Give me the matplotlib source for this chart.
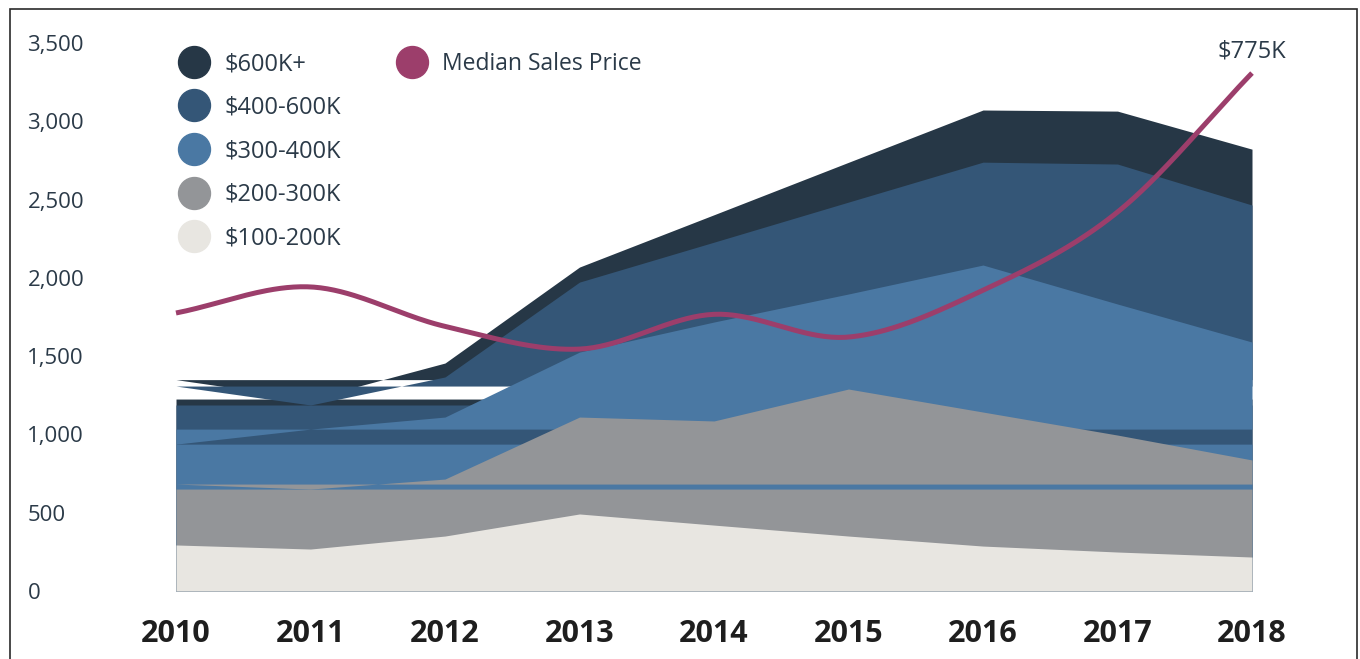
import numpy as np
import matplotlib
matplotlib.use("Agg")
import matplotlib.pyplot as plt
from matplotlib.lines import Line2D
from matplotlib.patches import Rectangle

# Sales count per price band (stacked)
years = [2010, 2011, 2012, 2013, 2014, 2015, 2016, 2017, 2018]
band_labels = ["$100-200K", "$200-300K", "$300-400K", "$400-600K", "$600K+"]
sales_100_200 = [294, 268, 351, 492, 421, 351, 287, 249, 217]
sales_200_300 = [389, 383, 364, 619, 665, 939, 856, 747, 620]
sales_300_400 = [255, 383, 396, 415, 632, 607, 939, 837, 753]
sales_400_600 = [371, 154, 256, 447, 510, 587, 657, 894, 875]
sales_600_up = [41, 38, 89, 96, 175, 254, 333, 338, 357]

# Median sales price ($K)
median_price = [416, 455, 396, 362, 414, 380, 450, 567, 775]
y_ticks = [0, 500, 1000, 1500, 2000, 2500, 3000, 3500]

band_colors = ["#e8e6e1", "#939598", "#4a78a3", "#345677", "#263746"]
median_color = "#9c3e6b"
text_color = "#2b3a48"


def smooth(x, y, n=40):
    # Catmull-Rom curve through the points (like Excel's smoothed line)
    pts = np.column_stack([x, y]).astype(float)
    p = np.vstack([2 * pts[0] - pts[1], pts, 2 * pts[-1] - pts[-2]])
    out = []
    t = np.linspace(0, 1, n, endpoint=False)[:, None]
    for i in range(1, len(p) - 2):
        p0, p1, p2, p3 = p[i - 1], p[i], p[i + 1], p[i + 2]
        seg = 0.5 * (2 * p1 + (-p0 + p2) * t
                     + (2 * p0 - 5 * p1 + 4 * p2 - p3) * t ** 2
                     + (-p0 + 3 * p1 - 3 * p2 + p3) * t ** 3)
        out.append(seg)
    out.append(pts[-1:])
    out = np.vstack(out)
    return out[:, 0], out[:, 1]


fig = plt.figure(figsize=(13.6, 6.59), dpi=100)
ax = fig.add_axes([176 / 1360, 68 / 659, 1076 / 1360, 548 / 659])

series = [sales_100_200, sales_200_300, sales_300_400, sales_400_600, sales_600_up]
tops = np.cumsum(np.array(series, dtype=float), axis=0)

# the source export has odd banding: each upper layer is filled from zero
# and XOR-ed with a horizontal band spanning its first two values
xs = np.linspace(years[0], years[-1], 2401)
for k in range(len(series) - 1, 0, -1):
    T = np.interp(xs, years, tops[k])
    a, b = sorted([tops[k][0], tops[k][1]])
    c = band_colors[k]
    ax.fill_between(xs, 0, np.minimum(T, a), color=c, lw=0)
    ax.fill_between(xs, np.clip(T, a, b), b, where=T < b, color=c, lw=0, interpolate=True)
    ax.fill_between(xs, b, np.maximum(T, b), where=T > b, color=c, lw=0, interpolate=True)
ax.fill_between(years, 0, tops[0], color=band_colors[0], lw=0)

ax.set_xlim(years[0], years[-1])
ax.set_ylim(0, 3500)
ax.set_yticks(y_ticks)
ax.set_yticklabels([f"{v:,}" for v in y_ticks], fontsize=16, color=text_color,
                   family="Open Sans")
for lbl in ax.get_yticklabels():
    lbl.set_horizontalalignment("left")
ax.set_xticks(years)
ax.set_xticklabels([str(y) for y in years], fontsize=22, fontweight="bold",
                   color="#1e1e1e", family="Open Sans")
ax.tick_params(axis="y", length=0, pad=107)
ax.tick_params(axis="x", length=0, pad=20)
for s in ax.spines.values():
    s.set_visible(False)

# median price on a hidden secondary axis
ax2 = ax.twinx()
ax2.set_ylim(0, 820)
ax2.set_axis_off()
sx, sy = smooth(years, median_price)
ax2.plot(sx, sy, color=median_color, lw=3.6, solid_capstyle="butt", clip_on=False)
ax2.annotate(f"${median_price[-1]}K", (years[-1], median_price[-1]),
             xytext=(0, 7), textcoords="offset points", ha="center", va="bottom",
             fontsize=17, color=text_color, family="Open Sans")

# legends
leg_font = {"family": "Open Sans", "size": 17}
handles = [Line2D([], [], marker="o", ls="", ms=23, color=band_colors[i])
           for i in range(len(series) - 1, -1, -1)]
labels = band_labels[::-1]
fig.legend(handles, labels, loc="upper left", bbox_to_anchor=(182 / 1360, 1 - 52 / 659),
           frameon=False, borderpad=0, borderaxespad=0, handlelength=1.0,
           handletextpad=0.8, labelspacing=0.83, prop=leg_font, labelcolor=text_color)
fig.legend([Line2D([], [], marker="o", ls="", ms=23, color=median_color)],
           ["Median Sales Price"], loc="upper left",
           bbox_to_anchor=(401 / 1360, 1 - 52 / 659),
           frameon=False, borderpad=0, borderaxespad=0, handlelength=1.0,
           handletextpad=0.8, prop={"family": "Open Sans", "size": 16.5},
           labelcolor=text_color)

# outer frame (bottom edge falls outside the image)
fig.patches.append(Rectangle((10 / 1360, -0.05), 1347 / 1360, 1.05 - 9 / 659,
                             transform=fig.transFigure, fill=False,
                             edgecolor="#2a2a2a", lw=1.2))

fig.savefig("out.png", dpi=100)
